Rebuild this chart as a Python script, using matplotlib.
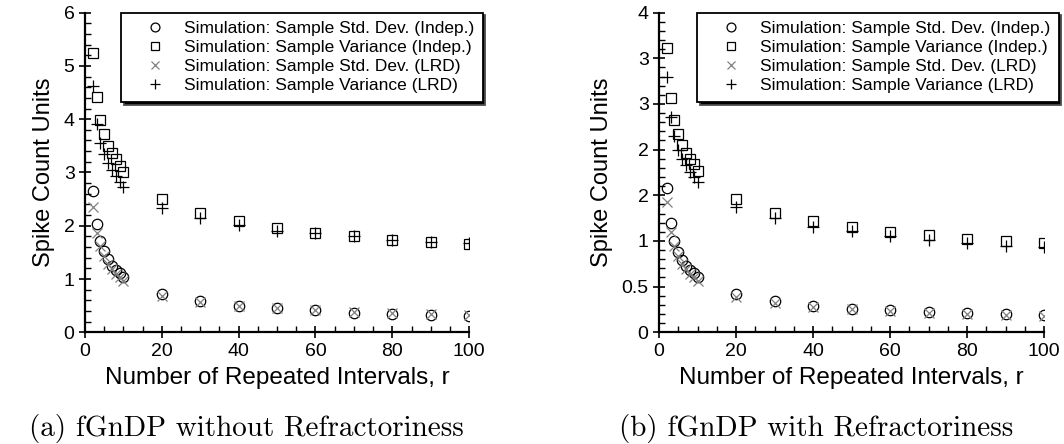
import matplotlib.pyplot as plt
from matplotlib.ticker import MultipleLocator

plt.rcParams['font.family'] = ['Liberation Sans', 'DejaVu Sans']

r = [2, 3, 4, 5, 6, 7, 8, 9, 10, 20, 30, 40, 50, 60, 70, 80, 90, 100]

# (a) fGnDP without refractoriness
a_std_indep = [2.65, 2.04, 1.72, 1.53, 1.37, 1.24, 1.17, 1.11, 1.04,
               0.72, 0.58, 0.50, 0.45, 0.41, 0.37, 0.345, 0.33, 0.31]
a_var_indep = [5.25, 4.41, 3.98, 3.72, 3.50, 3.36, 3.25, 3.13, 3.01,
               2.51, 2.24, 2.08, 1.96, 1.86, 1.80, 1.74, 1.69, 1.65]
a_std_lrd = [2.35, 1.86, 1.62, 1.44, 1.29, 1.18, 1.10, 1.04, 0.97,
             0.68, 0.57, 0.50, 0.45, 0.41, 0.38, 0.36, 0.34, 0.33]
a_var_lrd = [4.63, 3.91, 3.56, 3.35, 3.18, 3.05, 2.93, 2.83, 2.73,
             2.33, 2.15, 2.02, 1.91, 1.86, 1.80, 1.74, 1.70, 1.67]

# (b) fGnDP with refractoriness
b_std_indep = [1.58, 1.20, 1.00, 0.88, 0.79, 0.73, 0.68, 0.65, 0.61,
               0.42, 0.34, 0.29, 0.26, 0.245, 0.22, 0.21, 0.20, 0.19]
b_var_indep = [3.11, 2.57, 2.32, 2.17, 2.05, 1.96, 1.90, 1.84, 1.77,
               1.46, 1.31, 1.22, 1.15, 1.10, 1.06, 1.02, 0.995, 0.98]
b_std_lrd = [1.43, 1.10, 0.94, 0.83, 0.75, 0.69, 0.64, 0.60, 0.56,
             0.39, 0.32, 0.28, 0.25, 0.23, 0.21, 0.20, 0.19, 0.18]
b_var_lrd = [2.79, 2.36, 2.15, 2.00, 1.90, 1.83, 1.76, 1.70, 1.64,
             1.37, 1.25, 1.15, 1.11, 1.05, 1.005, 0.98, 0.94, 0.93]

a_yticks = [0, 1, 2, 3, 4, 5, 6]
b_yticks = [0, 0.5, 1, 1.5, 2, 2.5, 3, 3.5]
b_yticklabels = ['0', '0.5', '1', '2', '2', '3', '3', '4']

labels = ['Simulation: Sample Std. Dev. (Indep.)',
          'Simulation: Sample Variance (Indep.)',
          'Simulation: Sample Std. Dev. (LRD)',
          'Simulation: Sample Variance (LRD)']

fig = plt.figure(figsize=(10.64, 4.44), dpi=100)
ax1 = fig.add_axes([0.0799, 0.2516, 0.361, 0.72])
ax2 = fig.add_axes([0.6194, 0.2516, 0.362, 0.72])


def draw(ax, s1, v1, s2, v2, ymax, yminor, legx):
    ms = 7.5
    ax.plot(r, s1, 'o', ms=ms, mfc='none', mec='black', mew=0.9, label=labels[0])
    ax.plot(r, v1, 's', ms=ms, mfc='none', mec='black', mew=0.9, label=labels[1])
    ax.plot(r, s2, 'x', ms=ms, mec='#808080', mew=0.9, label=labels[2])
    ax.plot(r, v2, '+', ms=ms + 1, mec='black', mew=0.9, label=labels[3])
    ax.set_xlim(0, 100)
    ax.set_ylim(0, ymax)
    ax.xaxis.set_major_locator(MultipleLocator(20))
    ax.xaxis.set_minor_locator(MultipleLocator(5))
    ax.yaxis.set_minor_locator(MultipleLocator(yminor))
    for s in ['top', 'right']:
        ax.spines[s].set_visible(False)
    for s in ['left', 'bottom']:
        ax.spines[s].set_linewidth(1.6)
    ax.tick_params(which='major', direction='inout', length=9, width=1.2,
                   labelsize=14, pad=3)
    ax.tick_params(which='minor', direction='in', length=4, width=1.0)
    ax.set_xlabel('Number of Repeated Intervals, r', fontsize=17.5, labelpad=5)
    ax.set_ylabel('Spike Count Units', fontsize=17, labelpad=6)
    leg = ax.legend(loc='upper left', bbox_to_anchor=(legx, 1.0),
                    borderaxespad=0, fontsize=12.5, frameon=True,
                    fancybox=False, edgecolor='black', markerscale=0.85,
                    handlelength=2.9, handletextpad=0.2, labelspacing=0.22,
                    borderpad=0.5,
                    shadow={'facecolor': 'black', 'alpha': 1})
    leg.get_frame().set_linewidth(1.3)


draw(ax1, a_std_indep, a_var_indep, a_std_lrd, a_var_lrd, 6, 0.2, 0.094)
ax1.set_yticks(a_yticks)

draw(ax2, b_std_indep, b_var_indep, b_std_lrd, b_var_lrd, 3.5, 0.1, 0.099)
ax2.set_yticks(b_yticks)
ax2.set_yticklabels(b_yticklabels)

fig.text(0.232, 0.018, '(a) fGnDP without Refractoriness', family='cmr10',
         fontsize=21, ha='center', va='baseline')
fig.text(0.767, 0.018, '(b) fGnDP with Refractoriness', family='cmr10',
         fontsize=21, ha='center', va='baseline')

fig.savefig('out.png', dpi=100)
